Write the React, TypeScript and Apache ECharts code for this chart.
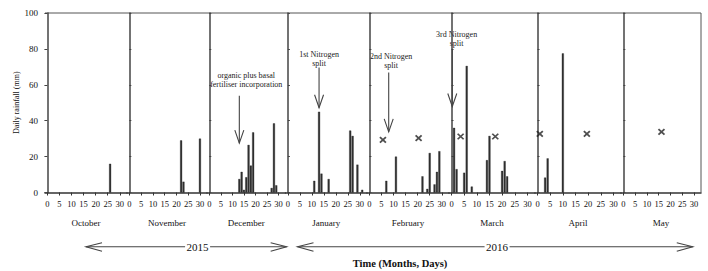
import React, { useEffect, useRef } from 'react';
import * as echarts from 'echarts';

// ---- data ----
const months = ['October', 'November', 'December', 'January', 'February', 'March', 'April', 'May'];
const dayTicks = [0, 5, 10, 15, 20, 25, 30];

const octRain = [[26, 16]];
const novRain = [[22, 29], [23, 6], [30, 30]];
const decRain = [[13, 7.5], [14, 11.5], [15, 1.5], [16, 8.5], [17, 26.5], [18, 15], [19, 33.5], [27, 2.5], [28, 38.5], [29, 4]];
const janRain = [[11, 6.5], [13, 45], [14, 10.5], [17, 7.5], [26, 34.5], [27, 31.5], [29, 15.5], [31, 1.5]];
const febRain = [[7, 6.5], [11, 20], [22, 9], [24, 2], [25, 22], [27, 4.5], [28, 11.5], [29, 23]];
const marRain = [[1, 36], [2, 13], [5, 11], [6, 70.5], [8, 3.3], [14, 18], [15, 31.5], [20, 12], [21, 17.5], [22, 9]];
const aprRain = [[3, 8.3], [4, 19], [10, 77.5]];
const mayRain: number[][] = [];
const rainByMonth = [octRain, novRain, decRain, janRain, febRain, marRain, aprRain, mayRain];

const octX: number[][] = [];
const novX: number[][] = [];
const decX: number[][] = [];
const janX: number[][] = [];
const febX = [[5.6, 29.3], [20.4, 30.3]];
const marX = [[3.6, 31.2], [17.3, 31.2]];
const aprX = [[0.9, 32.7], [19.5, 32.7]];
const mayX = [[16.2, 33.8]];
const xMarksByMonth = [octX, novX, decX, janX, febX, marX, aprX, mayX];

// annotations: month index, arrow day, arrow top value, arrow tip value, text day, text value (first line centre), lines
const annotations = [
  { m: 2, day: 13, top: 53.9, tip: 27.5, tDay: 16, tVal: 65, lines: ['organic plus basal', 'fertiliser incorporation'] },
  { m: 3, day: 13, top: 69.6, tip: 47.2, tDay: 13, tVal: 76.8, lines: ['1st Nitrogen', 'split'] },
  { m: 4, day: 8, top: 66.8, tip: 33.8, tDay: 9, tVal: 75.6, lines: ['2nd Nitrogen', 'split'] },
  { m: 5, day: 0.3, top: 79.6, tip: 47.9, tDay: 2, tVal: 88, lines: ['3rd Nitrogen', 'split'] },
];

// year periods: start (month, day), end (month, day), label position (month, day)
const periods = [
  { label: '2015', from: [0, 16], to: [2, 33.5], at: [1, 29] },
  { label: '2016', from: [3, 4], to: [7, 29.5], at: [5, 18] },
];

const SERIF = 'Liberation Serif, Times New Roman, serif';

export default function App() {
  const ref = useRef<HTMLDivElement>(null);

  useEffect(() => {
    if (!ref.current) return;
    const chart = echarts.init(ref.current, undefined, { renderer: 'svg' });
    const edges = [45, 127, 207, 285.5, 367, 449, 535, 621, 701];
    const top = 13;
    const height = 179.5;

    const grids = months.map((_, i) => ({
      left: edges[i],
      width: edges[i + 1] - edges[i],
      top,
      height,
      show: false,
    }));

    const xAxes = months.map((m, i) => ({
      type: 'value',
      gridIndex: i,
      min: -1,
      max: 33,
      splitLine: { show: false },
      axisLine: { show: true, onZero: false, lineStyle: { color: '#333', width: 1.5 } },
      axisTick: { show: true, customValues: dayTicks, length: 3, lineStyle: { color: '#333' } },
      axisLabel: { customValues: dayTicks, fontSize: 8.5, color: '#111', margin: 7, fontFamily: SERIF },
      name: m,
      nameLocation: 'middle',
      nameGap: 26,
      nameTextStyle: { fontSize: 9, color: '#111', fontFamily: SERIF },
    }));

    const yAxes = months.map((_, i) => ({
      type: 'value',
      gridIndex: i,
      min: 0,
      max: 100,
      interval: 20,
      splitLine: { show: false },
      axisLine: { show: true, lineStyle: { color: '#444', width: 1.5 } },
      axisTick: { show: true, inside: i > 0, length: i > 0 ? 2 : 3, lineStyle: { color: '#444' } },
      axisLabel: { show: i === 0, fontSize: 9, color: '#111', margin: 7, fontFamily: SERIF },
      name: i === 0 ? 'Daily rainfall (mm)' : '',
      nameLocation: 'middle',
      nameGap: 19,
      nameRotate: 90,
      nameTextStyle: { fontSize: 8, color: '#111', fontFamily: SERIF },
    }));

    const barSeries = rainByMonth.map((d, i) => ({
      type: 'bar',
      xAxisIndex: i,
      yAxisIndex: i,
      data: d,
      barWidth: 2,
      itemStyle: { color: '#333', borderColor: '#111', borderWidth: 0.3 },
    }));

    const markSeries = xMarksByMonth.map((d, i) => ({
      type: 'scatter',
      xAxisIndex: i,
      yAxisIndex: i,
      data: d,
      symbol: 'path://M0 0L10 9M10 0L0 9',
      symbolSize: [6, 5.5],
      itemStyle: { color: 'none', borderColor: '#222', borderWidth: 1.7 },
    }));

    chart.setOption({
      animation: false,
      grid: grids,
      xAxis: xAxes,
      yAxis: yAxes,
      series: [...barSeries, ...markSeries],
    });

    const px = (m: number, day: number, val: number) =>
      chart.convertToPixel({ gridIndex: m } as any, [day, val]) as number[];

    const g: any[] = [];
    const lineStyle = { stroke: '#444', lineWidth: 1.1 };

    // panel frame: top line across all months, right edge of the last
    const tl = px(0, -1, 100);
    const br = px(7, 33, 0);
    g.push({ type: 'line', shape: { x1: tl[0], y1: tl[1], x2: br[0], y2: tl[1] }, style: { stroke: '#555', lineWidth: 1 }, silent: true });
    g.push({ type: 'line', shape: { x1: br[0], y1: tl[1], x2: br[0], y2: br[1] }, style: { stroke: '#555', lineWidth: 1 }, silent: true });

    annotations.forEach((a) => {
      const p1 = px(a.m, a.day, a.top);
      const p2 = px(a.m, a.day, a.tip);
      g.push({ type: 'line', shape: { x1: p1[0], y1: p1[1], x2: p2[0], y2: p2[1] }, style: lineStyle, silent: true });
      g.push({
        type: 'polyline',
        shape: { points: [[p2[0] - 4.5, p2[1] - 13], [p2[0], p2[1]], [p2[0] + 4.5, p2[1] - 13]] },
        style: { ...lineStyle, fill: 'none' },
        silent: true,
      });
      const t = px(a.m, a.tDay, a.tVal);
      g.push({
        type: 'text',
        x: t[0],
        y: t[1] - 4.5,
        style: {
          text: a.lines.join('\n'),
          fontSize: 8,
          lineHeight: 9,
          fontFamily: SERIF,
          fill: '#222',
          align: 'center',
          verticalAlign: 'top',
        },
        silent: true,
      });
    });

    const baseY = 246.7;
    periods.forEach((p) => {
      const a = px(p.from[0], p.from[1], 0)[0];
      const b = px(p.to[0], p.to[1], 0)[0];
      const c = px(p.at[0], p.at[1], 0)[0];
      const half = 12.5;
      g.push({ type: 'line', shape: { x1: a, y1: baseY, x2: c - half, y2: baseY }, style: lineStyle, silent: true });
      g.push({ type: 'line', shape: { x1: c + half, y1: baseY, x2: b, y2: baseY }, style: lineStyle, silent: true });
      g.push({
        type: 'polyline',
        shape: { points: [[a + 16, baseY - 4], [a, baseY], [a + 16, baseY + 4.5]] },
        style: { ...lineStyle, fill: 'none' },
        silent: true,
      });
      g.push({
        type: 'polyline',
        shape: { points: [[b - 16, baseY - 4], [b, baseY], [b - 16, baseY + 4.5]] },
        style: { ...lineStyle, fill: 'none' },
        silent: true,
      });
      g.push({
        type: 'text',
        x: c,
        y: baseY,
        style: { text: p.label, fontSize: 11, fontFamily: SERIF, fill: '#111', align: 'center', verticalAlign: 'middle' },
        silent: true,
      });
    });

    g.push({
      type: 'text',
      x: 400,
      y: 263,
      style: {
        text: 'Time (Months, Days)',
        fontSize: 10.5,
        fontWeight: 'bold',
        fontFamily: SERIF,
        fill: '#111',
        align: 'center',
        verticalAlign: 'middle',
      },
      silent: true,
    });

    chart.setOption({ graphic: g });

    return () => chart.dispose();
  }, []);

  return <div ref={ref} style={{ position: 'fixed', left: 0, top: 0, width: 708, height: 271, background: '#fff' }} />;
}
